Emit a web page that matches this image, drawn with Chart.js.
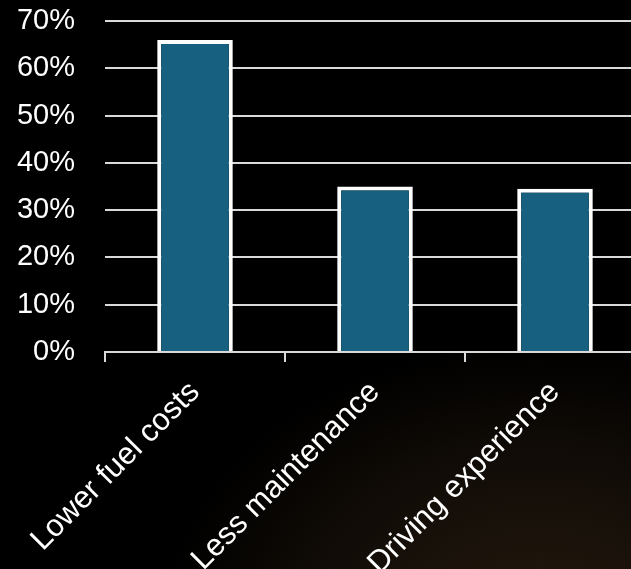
<!DOCTYPE html>
<html>
<head>
<meta charset="utf-8">
<script src="https://cdn.jsdelivr.net/npm/chart.js@4/dist/chart.umd.min.js"></script>
<style>
  html, body { margin: 0; padding: 0; width: 631px; height: 569px; overflow: hidden; }
  body {
    background-color: #000;
    background-image: radial-gradient(ellipse 380px 280px at 540px 620px, rgba(36,25,14,1) 0%, rgba(20,14,8,1) 50%, rgba(0,0,0,1) 100%);
  }
  #wrap { position: absolute; left: 0; top: 0; width: 645px; height: 569px; }
</style>
</head>
<body>
<div id="wrap"><canvas id="c"></canvas></div>
<script>
const categories = ["Lower fuel costs", "Less maintenance", "Driving experience"];
const shareValues = [66, 35, 34.5];
const yTicks = [0, 10, 20, 30, 40, 50, 60, 70];

new Chart(document.getElementById('c'), {
  type: 'bar',
  data: {
    labels: categories,
    datasets: [{
      data: shareValues,
      backgroundColor: '#17607f',
      borderColor: '#ffffff',
      borderWidth: 4,
      barPercentage: 0.42,
      categoryPercentage: 1.0
    }]
  },
  options: {
    responsive: true,
    maintainAspectRatio: false,
    animation: false,
    layout: { padding: { top: 0, left: 0, right: 0, bottom: 0 } },
    plugins: { legend: { display: false }, tooltip: { enabled: false } },
    scales: {
      x: {
        grid: { display: true, drawOnChartArea: false, drawTicks: true, tickLength: 10, color: '#d9d9d9', lineWidth: 2, offset: true },
        border: { display: true, color: '#d9d9d9', width: 2 },
        ticks: {
          color: '#ffffff',
          font: { family: 'Liberation Sans, Arial, sans-serif', size: 31 },
          maxRotation: 45, minRotation: 45, padding: 12, autoSkip: false
        },
        afterFit: (s) => { s.height = 217; }
      },
      y: {
        min: 0, max: 70,
        afterBuildTicks: (s) => { s.ticks = yTicks.map(v => ({ value: v })); },
        grid: { color: '#d9d9d9', lineWidth: 2, drawTicks: false },
        border: { display: false },
        ticks: {
          color: '#ffffff',
          font: { family: 'Liberation Sans, Arial, sans-serif', size: 29 },
          padding: 30,
          callback: (v) => v + '%'
        },
        afterFit: (s) => { s.width = 105; s.paddingTop = 21; s.paddingBottom = 0; }
      }
    }
  }
});
</script>
</body>
</html>
